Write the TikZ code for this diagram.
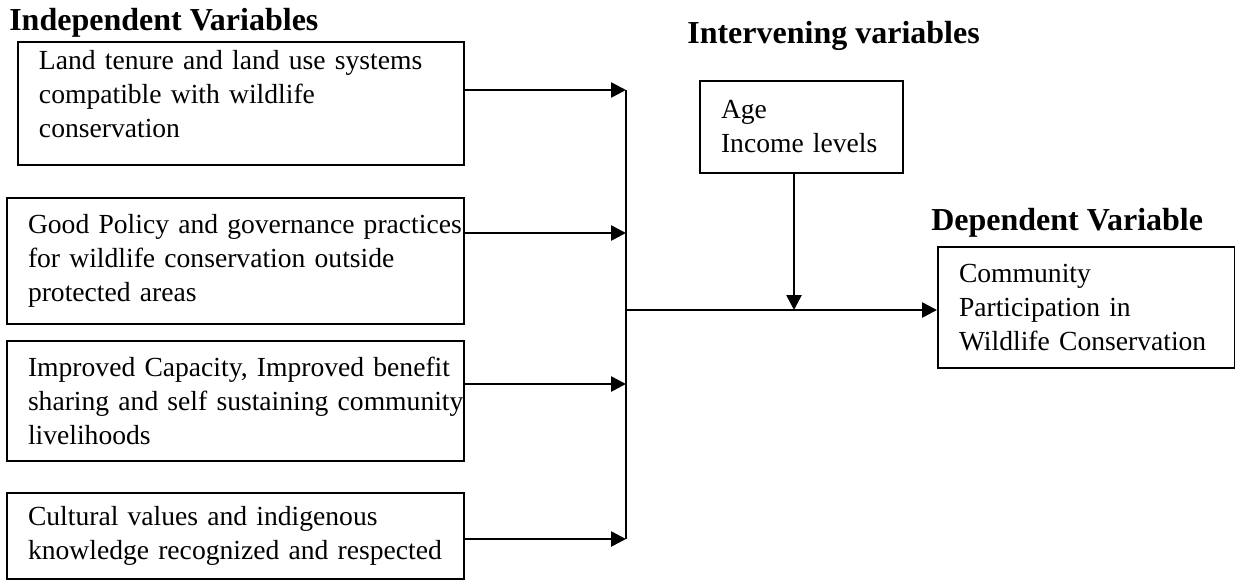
\documentclass[tikz,border=0pt]{standalone}
\usepackage{fontspec}
\setmainfont{Liberation Serif}
\usetikzlibrary{arrows.meta}

\begin{document}
\begin{tikzpicture}[
		x=0.5pt, y=-0.5pt,
		box/.style={draw, line width=1pt, anchor=north west, inner sep=0pt, align=left,
			font=\fontsize{13.8}{17}\selectfont,
			execute at begin node={\leftskip=10.5pt\rightskip=-20pt plus 1fil}},
		head/.style={anchor=base west, inner sep=0pt, font=\fontsize{16}{19}\selectfont\bfseries},
		>={Triangle[length=7.5pt,width=7.5pt]},
		line width=1.3pt]
	\useasboundingbox (0,0) rectangle (1235,579);
	%% headings
	\node (indep) at (8,30) [head] {Independent Variables};
	\node (intv) at (686,43) [head] {Intervening variables};
	\node (depv) at (930,230) [head] {Dependent Variable};
	%% define boxes
	\node (land) at (17,41) [box, text width=223pt, minimum height=61.5pt, text depth=44pt] {Land tenure and land use systems\\compatible with wildlife\\conservation};
	\node (policy) at (6,197) [box, text width=228.5pt, minimum height=63pt] {Good Policy and governance practices\\for wildlife conservation outside\\protected areas};
	\node (capacity) at (6,340) [box, text width=228.5pt, minimum height=60pt] {Improved Capacity, Improved benefit\\sharing and self sustaining community\\livelihoods};
	\node (culture) at (6,492) [box, text width=228.5pt, minimum height=43pt] {Cultural values and indigenous\\knowledge recognized and respected};
	\node (inter) at (699,80) [box, text width=101.5pt, minimum height=46pt] {Age\\Income levels};
	\node (dep) at (937,246) [box, text width=148.5pt, minimum height=60.5pt] {Community\\Participation in\\Wildlife Conservation};
	%% define junctions
	\coordinate (j1) at (626,90);
	\coordinate (j2) at (626,233);
	\coordinate (j3) at (626,384);
	\coordinate (j4) at (626,539);
	\coordinate (mid) at (626,310);
	\coordinate (meet) at (794,310);
	%% define arrows
	\draw[->] (land.east |- j1) -- (j1);
	\draw[->] (policy.east |- j2) -- (j2);
	\draw[->] (capacity.east |- j3) -- (j3);
	\draw[->] (culture.east |- j4) -- (j4);
	\draw (j1) -- (j4);
	\draw[->] (mid) -- (dep.west |- mid);
	\draw[->] (meet |- inter.south) -- (meet);
\end{tikzpicture}
\end{document}
